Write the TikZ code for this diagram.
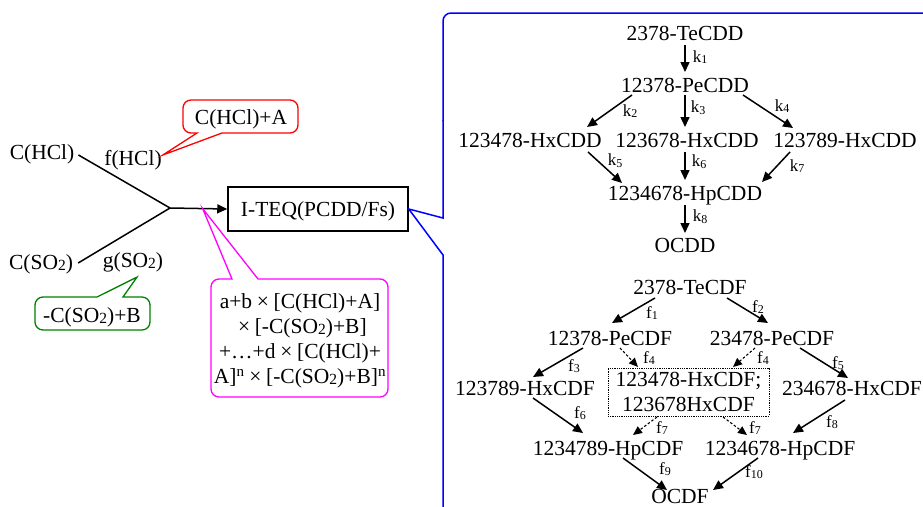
\documentclass[tikz,border=0pt]{standalone}
\usepackage{fontspec}
\setmainfont{Liberation Serif}
\usetikzlibrary{arrows.meta,calc}

\definecolor{callred}{RGB}{255,0,0}
\definecolor{callgreen}{RGB}{0,128,0}
\definecolor{callmag}{RGB}{255,0,255}
\definecolor{callblue}{RGB}{0,0,255}

\newcommand\mainsz{\fontsize{21.5}{25}\selectfont}
\newcommand\labsz{\fontsize{17}{17}\selectfont}
% small subscript used in chemical formulas (SO2)
\newcommand\lowsub[1]{\raisebox{-0.06em}{\fontsize{15.5}{15.5}\selectfont #1}}
% subscript of rate constants k1, f1 ...
\newcommand\ksub[1]{\raisebox{-0.1em}{\fontsize{12}{12}\selectfont #1}}
% full-width multiplication sign
\newcommand\tms{\makebox[1em]{×}}

\begin{document}
\begin{tikzpicture}[x=1pt,y=-1pt,
  chem/.style={inner sep=0pt, text height=15pt, text depth=0.8pt, font=\mainsz},
  rate/.style={inner sep=0pt, font=\labsz},
  arr/.style={line width=1.5pt, -{Triangle[length=10pt,width=9pt]}},
  darr/.style={line width=1.1pt, dash pattern=on 2.5pt off 2pt, -{Triangle[length=9pt,width=8pt]}},
  callout/.style={line width=1.3pt, line join=miter},
]
\useasboundingbox (0,0) rectangle (923,506);

% ---------------- left: inputs and regression ----------------
\node[chem] (chcl) at (42,152) {C(HCl)};
\node[chem] (fhcl) at (133,158) {f(HCl)};
\node[chem] (cso2) at (41,262) {C(SO\lowsub{2})};
\node[chem] (gso2) at (133,260) {g(SO\lowsub{2})};
\coordinate (jn) at (170,208);
\node[chem, draw, line width=1.5pt, minimum width=180pt, minimum height=44pt] (teq) at (318,209) {I-TEQ(PCDD/Fs)};

\draw[line width=1.5pt] ($(chcl.east)+(4,3)$) -- (jn);
\draw[line width=1.5pt] ($(cso2.east)+(5,1)$) -- (jn);
\draw[arr] (jn) -- (teq.west);

% red callout
\node[chem] (hclA) at (241,117) {C(HCl)+A};
\draw[callout, callred] ($(fhcl.east)+(1,-3)$) -- (222,133) [rounded corners=8pt] -- (298,133) -- (298,100) -- (183,100) -- (183,133) [sharp corners] -- (197,133) -- cycle;

% green callout
\node[chem] (so2B) at (92,315) {-C(SO\lowsub{2})+B};
\draw[callout, callgreen] ($(gso2.south)+(4,9)$) -- (97,297) [rounded corners=8pt] -- (35,297) -- (35,330) -- (150,330) -- (150,297) [sharp corners] -- (123,297) -- cycle;

% magenta callout
\node[font=\mainsz, align=center, inner sep=0pt] (poly) at (300,341)
  {a+b\tms[C(HCl)+A]\\
   \tms[-C(SO\lowsub{2})+B]\\
   +…+d\tms[C(HCl)+\\
   A]\textsuperscript{n}\tms[-C(SO\lowsub{2})+B]\textsuperscript{n}};
\draw[callout, callmag] ($(jn)!0.57!(teq.west)$) -- (232,279) [rounded corners=8pt] -- (211,279) -- (211,397) -- (388,397) -- (388,279) [sharp corners] -- (258,279) -- cycle;

% blue callout framing the congener pathways
\draw[callout, callblue, line width=1.5pt] (443,515) -- (443,255) -- (teq.east) -- (443,218) -- (443,120);
\draw[callout, callblue, line width=1.5pt, rounded corners=8pt] (443,121) -- (443,13) -- (935,13);

% ---------------- PCDD chlorination pathway ----------------
\node[chem] (te) at (685,33) {2378-TeCDD};
\node[chem] (pe) at (685,85) {12378-PeCDD};
\node[chem] (hx1) at (530,140) {123478-HxCDD};
\node[chem] (hx2) at (687,140) {123678-HxCDD};
\node[chem] (hx3) at (845,140) {123789-HxCDD};
\node[chem] (hp) at (685,193) {1234678-HpCDD};
\node[chem] (ocdd) at (685,245) {OCDD};

\draw[arr] ($(te)+(0,12)$) -- ($(pe)+(0,-13)$);
\draw[arr] ($(pe)+(-53,10)$) -- ($(hx1)+(57,-13)$);
\draw[arr] ($(pe)+(0,10)$) -- ($(hx2)+(-2,-13)$);
\draw[arr] ($(pe)+(58,10)$) -- ($(hx3)+(-52,-12)$);
\draw[arr] ($(hx1)+(58,12)$) -- ($(hp)+(-63,-10)$);
\draw[arr] ($(hx2)+(-2,12)$) -- ($(hp)+(0,-13)$);
\draw[arr] ($(hx3)+(-55,12)$) -- ($(hp)+(77,-11)$);
\draw[arr] ($(hp)+(0,12)$) -- ($(ocdd)+(0,-12)$);

\node[rate] (k1) at (700,57) {k\ksub{1}};
\node[rate] (k2) at (630,111) {k\ksub{2}};
\node[rate] (k3) at (698,108) {k\ksub{3}};
\node[rate] (k4) at (782,106) {k\ksub{4}};
\node[rate] (k5) at (615,161) {k\ksub{5}};
\node[rate] (k6) at (699,162) {k\ksub{6}};
\node[rate] (k7) at (797,166) {k\ksub{7}};
\node[rate] (k8) at (700,217) {k\ksub{8}};

% ---------------- PCDF chlorination pathway ----------------
\node[chem] (tf) at (690,287) {2378-TeCDF};
\node[chem] (pf1) at (610,338) {12378-PeCDF};
\node[chem] (pf2) at (772,338) {23478-PeCDF};
\node[chem] (hf1) at (525,388) {123789-HxCDF};
\node[draw, densely dotted, line width=0.8pt, font=\mainsz, align=center, inner sep=0pt,
      minimum width=161pt, minimum height=48pt] (hfbox) at (688.5,392) {123478-HxCDF;\\123678HxCDF};
\node[chem] (hf3) at (852,388) {234678-HxCDF};
\node[chem] (hpf1) at (608,448) {1234789-HpCDF};
\node[chem] (hpf2) at (780,448) {1234678-HpCDF};
\node[chem] (ocdf) at (680,496) {OCDF};

\draw[arr] ($(tf)+(-35,11)$) -- ($(pf1)+(2,-15)$);
\draw[arr] ($(tf)+(37,11)$) -- ($(pf2)+(-4,-15)$);
\draw[arr] ($(pf1)+(-27,10)$) -- ($(hf1)+(8,-11)$);
\draw[darr] ($(pf1)+(10,10)$) -- ($(hfbox)+(-50.5,-25)$);
\draw[darr] ($(pf2)+(-17,10)$) -- ($(hfbox)+(44.5,-25)$);
\draw[arr] ($(pf2)+(28,10)$) -- ($(hf3)+(-4,-10)$);
\draw[arr] ($(hf1)+(8,10)$) -- ($(hpf1)+(-25,-15)$);
\draw[darr] ($(hfbox)+(-31.5,25)$) -- ($(hpf1)+(25,-13)$);
\draw[darr] ($(hfbox)+(34.5,25)$) -- ($(hpf2)+(-33,-13)$);
\draw[arr] ($(hf3)+(-7,12)$) -- ($(hpf2)+(13,-15)$);
\draw[arr] ($(hpf1)+(15,10)$) -- ($(ocdf)+(-13,-6)$);
\draw[arr] ($(hpf2)+(-22,10)$) -- ($(ocdf)+(33,-6)$);

\node[rate] (f1) at (652,313) {f\ksub{1}};
\node[rate] (f2) at (758,307) {f\ksub{2}};
\node[rate] (f3) at (574,366) {f\ksub{3}};
\node[rate] (f4a) at (649,358) {f\ksub{4}};
\node[rate] (f4b) at (763,358) {f\ksub{4}};
\node[rate] (f5) at (838,363) {f\ksub{5}};
\node[rate] (f6) at (580,413) {f\ksub{6}};
\node[rate] (f7a) at (662,428) {f\ksub{7}};
\node[rate] (f7b) at (755,428) {f\ksub{7}};
\node[rate] (f8) at (832,422) {f\ksub{8}};
\node[rate] (f9) at (665,469) {f\ksub{9}};
\node[rate] (f10) at (754,472) {f\ksub{10}};
\end{tikzpicture}
\end{document}
